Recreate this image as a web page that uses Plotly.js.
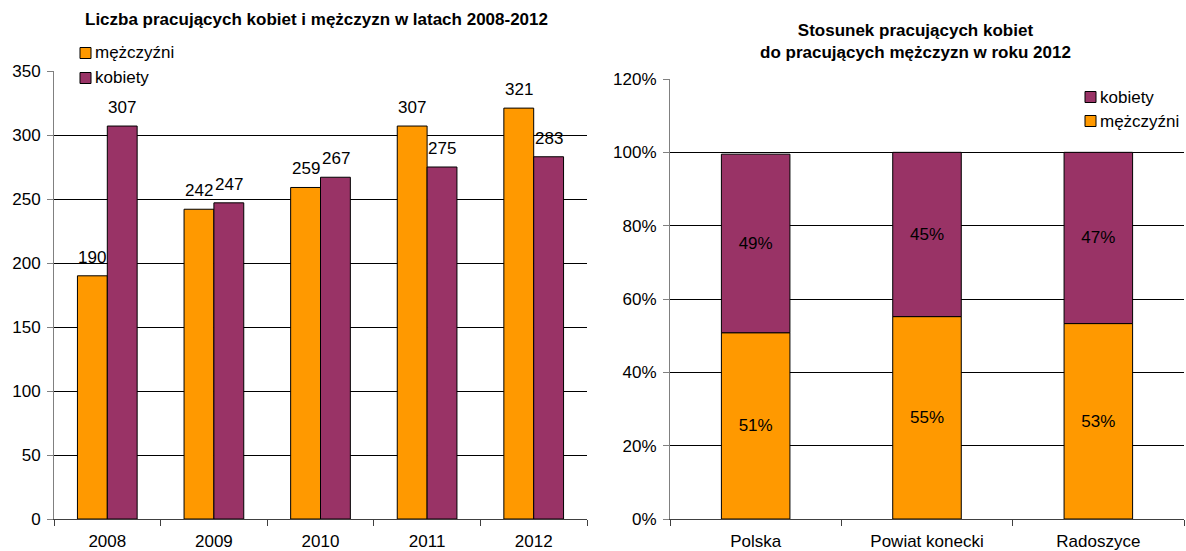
<!DOCTYPE html>
<html>
<head>
<meta charset="utf-8">
<script src="https://cdn.plot.ly/plotly-3.0.1.min.js"></script>
<style>html,body{margin:0;padding:0;background:#fff;}#chart{width:1186px;height:551px;}</style>
</head>
<body>
<div id="chart"></div>
<script>
// Left chart data
const years = ['2008', '2009', '2010', '2011', '2012'];
const menCounts = [190, 242, 259, 307, 321];
const womenCounts = [307, 247, 267, 275, 283];

// Right chart data (percent shares in 2012)
const regions = ['Polska', 'Powiat konecki', 'Radoszyce'];
const menShare = [50.8, 55.2, 53.3];
const womenShare = [48.7, 44.8, 46.7];

const leftTitle = 'Liczba pracujących kobiet i mężczyzn w latach 2008-2012';
const rightTitle = 'Stosunek pracujących kobiet<br>do pracujących mężczyzn w roku 2012';
const menName = 'mężczyźni';
const womenName = 'kobiety';

const ORANGE = '#FF9900';
const PURPLE = '#993366';
const FONT = 'Liberation Sans, Arial, sans-serif';
const FS = 17;
const W = 1186, H = 551;
const px = v => v / W;
const py = v => 1 - v / H;

const traces = [
  {
    type: 'bar', x: years, y: menCounts, name: menName,
    xaxis: 'x', yaxis: 'y',
    marker: {color: ORANGE, line: {color: '#000', width: 1}},
    hoverinfo: 'none'
  },
  {
    type: 'bar', x: years, y: womenCounts, name: womenName,
    xaxis: 'x', yaxis: 'y',
    marker: {color: PURPLE, line: {color: '#000', width: 1}},
    hoverinfo: 'none'
  },
  {
    type: 'bar', x: regions, y: menShare, name: menName,
    xaxis: 'x2', yaxis: 'y2',
    offsetgroup: 'stack', width: 0.4,
    marker: {color: ORANGE, line: {color: '#000', width: 1}},
    text: menShare.map(v => Math.round(v) + '%'),
    textposition: 'inside', insidetextanchor: 'middle',
    textfont: {color: '#000', size: FS, family: FONT},
    hoverinfo: 'none'
  },
  {
    type: 'bar', x: regions, y: womenShare, base: menShare, name: womenName,
    xaxis: 'x2', yaxis: 'y2',
    offsetgroup: 'stack', width: 0.4,
    marker: {color: PURPLE, line: {color: '#000', width: 1}},
    text: womenShare.map(v => Math.round(v) + '%'),
    textposition: 'inside', insidetextanchor: 'middle',
    textfont: {color: '#000', size: FS, family: FONT},
    hoverinfo: 'none'
  }
];

const txt = {size: FS, color: '#000', family: FONT};
const annotations = [];
years.forEach((yr, i) => {
  annotations.push({x: i, y: menCounts[i], xref: 'x', yref: 'y', text: String(menCounts[i]),
    showarrow: false, yanchor: 'bottom', xshift: -15, yshift: 7, font: txt});
  annotations.push({x: i, y: womenCounts[i], xref: 'x', yref: 'y', text: String(womenCounts[i]),
    showarrow: false, yanchor: 'bottom', xshift: 15, yshift: 7, font: txt});
});
annotations.push({x: px(316), y: py(20), xref: 'paper', yref: 'paper', text: '<b>' + leftTitle + '</b>',
  showarrow: false, xanchor: 'center', yanchor: 'middle', font: txt});
annotations.push({x: px(915), y: py(42), xref: 'paper', yref: 'paper', text: '<b>' + rightTitle + '</b>',
  showarrow: false, xanchor: 'center', yanchor: 'middle', align: 'center', font: txt});

// Hand-drawn legends (square swatch + label)
const shapes = [
  {type: 'rect', xref: 'paper', yref: 'paper', x0: px(62), x1: px(186), y0: py(92), y1: py(40),
    fillcolor: '#fff', line: {width: 0}, layer: 'above'}
];
const legendItems = [
  {name: menName, color: ORANGE, x: 80, y: 53},
  {name: womenName, color: PURPLE, x: 80, y: 78},
  {name: womenName, color: PURPLE, x: 1085, y: 97},
  {name: menName, color: ORANGE, x: 1085, y: 121}
];
legendItems.forEach(it => {
  shapes.push({type: 'rect', xref: 'paper', yref: 'paper', x0: px(it.x), x1: px(it.x + 11),
    y0: py(it.y + 5.5), y1: py(it.y - 5.5), fillcolor: it.color, line: {color: '#000', width: 1}, layer: 'above'});
  annotations.push({x: px(it.x + 13), y: py(it.y), xref: 'paper', yref: 'paper', text: it.name,
    showarrow: false, xanchor: 'left', yanchor: 'middle', font: txt});
});

const axisFont = {size: FS, family: FONT, color: '#000'};
const layout = {
  width: W, height: H,
  margin: {l: 0, r: 0, t: 0, b: 0},
  paper_bgcolor: '#fff', plot_bgcolor: '#fff',
  font: {family: FONT, size: FS, color: '#000'},
  barmode: 'group', bargap: 0.44, bargroupgap: 0,
  showlegend: false,
  xaxis: {
    domain: [px(54), px(587)], type: 'category', range: [-0.5, 4.5],
    showline: true, linecolor: '#404040', linewidth: 1,
    ticks: 'outside', tickson: 'boundaries', ticklen: 6, tickcolor: '#404040',
    ticklabelstandoff: 7, showgrid: false, zeroline: false, fixedrange: true,
    tickfont: axisFont
  },
  yaxis: {
    domain: [1 - 519/H, 1 - 71/H], range: [0, 350], dtick: 50,
    showline: true, linecolor: '#808080', linewidth: 1,
    ticks: 'outside', ticklen: 6, tickcolor: '#808080',
    showgrid: true, gridcolor: '#000', gridwidth: 1, zeroline: false, fixedrange: true,
    tickfont: axisFont, ticklabelstandoff: 3
  },
  xaxis2: {
    domain: [px(670), px(1184)], type: 'category', range: [-0.5, 2.5], anchor: 'y2',
    showline: true, linecolor: '#404040', linewidth: 1,
    ticks: 'outside', tickson: 'boundaries', ticklen: 6, tickcolor: '#404040',
    ticklabelstandoff: 7, showgrid: false, zeroline: false, fixedrange: true,
    tickfont: axisFont
  },
  yaxis2: {
    domain: [1 - 519/H, 1 - 79/H], range: [0, 120], dtick: 20, ticksuffix: '%', anchor: 'x2',
    showline: true, linecolor: '#808080', linewidth: 1,
    ticks: 'outside', ticklen: 6, tickcolor: '#808080',
    showgrid: true, gridcolor: '#000', gridwidth: 1, zeroline: false, fixedrange: true,
    tickfont: axisFont, ticklabelstandoff: 3
  },
  shapes: shapes,
  annotations: annotations
};

Plotly.newPlot('chart', traces, layout, {displayModeBar: false, staticPlot: true});
</script>
</body>
</html>
